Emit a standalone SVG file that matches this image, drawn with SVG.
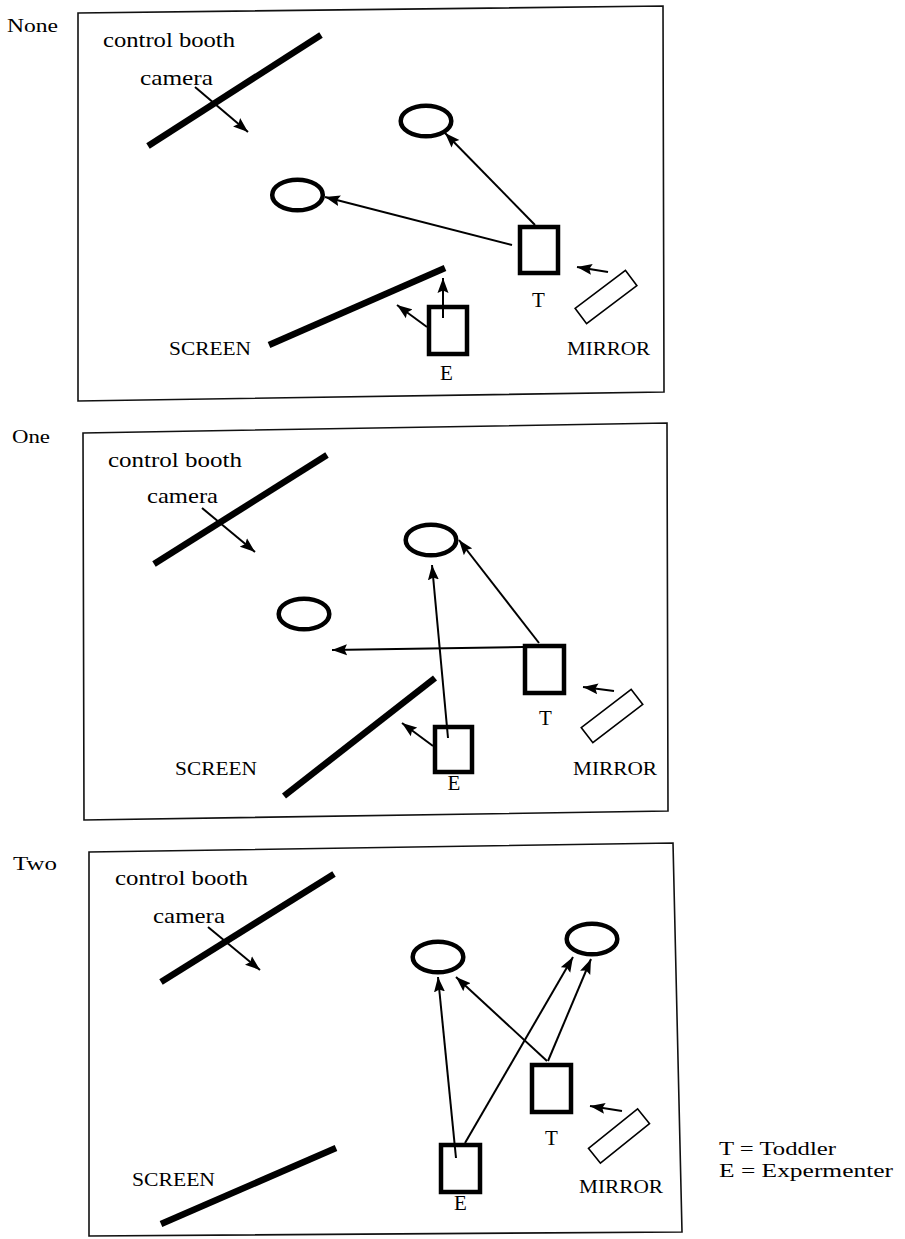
<svg xmlns="http://www.w3.org/2000/svg" width="905" height="1239" viewBox="0 0 905 1239">
  <style>
    .frame { fill: none; stroke: #111; stroke-width: 1.6; }
    .wall { stroke: #000; stroke-width: 6.5; fill: none; }
    .toy { fill: none; stroke: #000; stroke-width: 4.5; }
    .person { fill: none; stroke: #000; stroke-width: 4.5; }
    .mirror { fill: #fff; stroke: #000; stroke-width: 1.6; }
    .link { stroke: #000; stroke-width: 2; fill: none; marker-end: url(#ah); }
    text { font-family: "Liberation Serif", "Times New Roman", serif; fill: #000; }
    .cond { font-size: 19px; }
    .lbl { font-size: 19px; }
    .big { font-size: 21px; }
    .leg { font-size: 19px; }
    .id { font-size: 21px; text-anchor: middle; }
  </style>
  <defs>
    <marker id="ah" markerUnits="userSpaceOnUse" markerWidth="17" markerHeight="12" refX="15" refY="6" orient="auto">
      <path d="M0,0.5 L15,6 L0,11.5 L2.5,6 Z" fill="#000"/>
    </marker>
  </defs>
  <rect width="905" height="1239" fill="#fff"/>

  <!-- Condition: None -->
  <g id="panel-none">
    <text class="cond" x="7" y="32" textLength="51" lengthAdjust="spacingAndGlyphs">None</text>
    <polygon class="frame" points="78,13 663,6 664,392 78,401"/>
    <g id="none-booth">
      <line class="wall" x1="148" y1="146" x2="321" y2="35"/>
      <text class="big" x="103" y="47" textLength="132" lengthAdjust="spacingAndGlyphs">control booth</text>
      <text class="big" x="140" y="85" textLength="73" lengthAdjust="spacingAndGlyphs">camera</text>
    </g>
    <g id="none-screen">
      <line class="wall" x1="269" y1="345" x2="445" y2="268"/>
      <text class="lbl" x="169" y="355" textLength="82" lengthAdjust="spacingAndGlyphs">SCREEN</text>
    </g>
    <g id="none-toy-a"><ellipse class="toy" cx="426" cy="121" rx="25.3" ry="15.3"/></g>
    <g id="none-toy-b"><ellipse class="toy" cx="297.5" cy="195" rx="25.3" ry="15.3"/></g>
    <g id="none-toddler">
      <rect class="person" x="520" y="227" width="38" height="46"/>
      <text class="id" x="538.5" y="307">T</text>
    </g>
    <g id="none-experimenter">
      <rect class="person" x="429" y="307" width="38" height="47"/>
      <text class="id" x="446.5" y="380">E</text>
    </g>
    <g id="none-mirror">
      <rect class="mirror" x="-31.5" y="-9.5" width="63" height="19" transform="translate(606,297) rotate(-37)"/>
      <text class="lbl" x="567" y="355" textLength="83" lengthAdjust="spacingAndGlyphs">MIRROR</text>
    </g>
  </g>

  <!-- Condition: One -->
  <g id="panel-one">
    <text class="cond" x="12" y="443" textLength="38" lengthAdjust="spacingAndGlyphs">One</text>
    <polygon class="frame" points="83,433 667,423 668,811 84,820"/>
    <g id="one-booth">
      <line class="wall" x1="154" y1="564" x2="327" y2="455"/>
      <text class="big" x="108" y="467" textLength="134" lengthAdjust="spacingAndGlyphs">control booth</text>
      <text class="big" x="147" y="503" textLength="71" lengthAdjust="spacingAndGlyphs">camera</text>
    </g>
    <g id="one-screen">
      <line class="wall" x1="284" y1="796" x2="435" y2="678"/>
      <text class="lbl" x="175" y="775" textLength="82" lengthAdjust="spacingAndGlyphs">SCREEN</text>
    </g>
    <g id="one-toy-a"><ellipse class="toy" cx="431" cy="540" rx="25.3" ry="15.3"/></g>
    <g id="one-toy-b"><ellipse class="toy" cx="304" cy="614" rx="25.3" ry="15.3"/></g>
    <g id="one-toddler">
      <rect class="person" x="525" y="646" width="39" height="47"/>
      <text class="id" x="545.5" y="725">T</text>
    </g>
    <g id="one-experimenter">
      <rect class="person" x="435" y="727" width="37" height="45"/>
      <text class="id" x="454" y="790">E</text>
    </g>
    <g id="one-mirror">
      <rect class="mirror" x="-31.5" y="-9.5" width="63" height="19" transform="translate(612,716) rotate(-37.6)"/>
      <text class="lbl" x="573" y="775" textLength="84" lengthAdjust="spacingAndGlyphs">MIRROR</text>
    </g>
  </g>

  <!-- Condition: Two -->
  <g id="panel-two">
    <text class="cond" x="13" y="870" textLength="44" lengthAdjust="spacingAndGlyphs">Two</text>
    <polygon class="frame" points="89,852 673,843 682,1232 89,1236"/>
    <g id="two-booth">
      <line class="wall" x1="161" y1="982" x2="334" y2="874"/>
      <text class="big" x="115" y="885" textLength="133" lengthAdjust="spacingAndGlyphs">control booth</text>
      <text class="big" x="153" y="923" textLength="72" lengthAdjust="spacingAndGlyphs">camera</text>
    </g>
    <g id="two-screen">
      <line class="wall" x1="161" y1="1224" x2="336" y2="1148"/>
      <text class="lbl" x="132" y="1186" textLength="83" lengthAdjust="spacingAndGlyphs">SCREEN</text>
    </g>
    <g id="two-toy-a"><ellipse class="toy" cx="438" cy="957" rx="25.3" ry="15.3"/></g>
    <g id="two-toy-b"><ellipse class="toy" cx="592" cy="939" rx="25.3" ry="15.3"/></g>
    <g id="two-toddler">
      <rect class="person" x="532" y="1065" width="39" height="47"/>
      <text class="id" x="551.5" y="1145">T</text>
    </g>
    <g id="two-experimenter">
      <rect class="person" x="441" y="1145" width="39" height="47"/>
      <text class="id" x="460.5" y="1210">E</text>
    </g>
    <g id="two-mirror">
      <rect class="mirror" x="-31.5" y="-9.5" width="63" height="19" transform="translate(619,1136) rotate(-38.8)"/>
      <text class="lbl" x="579" y="1193" textLength="84" lengthAdjust="spacingAndGlyphs">MIRROR</text>
    </g>
  </g>

  <!-- Legend -->
  <g id="legend">
    <text class="leg" x="719" y="1155" textLength="117" lengthAdjust="spacingAndGlyphs">T = Toddler</text>
    <text class="leg" x="719" y="1177" textLength="174" lengthAdjust="spacingAndGlyphs">E = Expermenter</text>
  </g>

  <!-- Lines of sight and attention -->
  <g id="connectors">
    <line class="link" x1="195" y1="87" x2="248" y2="132"/>
    <line class="link" x1="535" y1="225" x2="445" y2="133"/>
    <line class="link" x1="512" y1="245" x2="325" y2="197"/>
    <line class="link" x1="608" y1="272" x2="577" y2="267"/>
    <line class="link" x1="443" y1="318" x2="443" y2="278"/>
    <line class="link" x1="427" y1="327" x2="397" y2="305"/>

    <line class="link" x1="202" y1="508" x2="255" y2="552"/>
    <line class="link" x1="539" y1="643" x2="459" y2="540"/>
    <line class="link" x1="523" y1="647" x2="332" y2="650"/>
    <line class="link" x1="448" y1="738" x2="432" y2="565"/>
    <line class="link" x1="433" y1="746" x2="402" y2="723"/>
    <line class="link" x1="614" y1="691" x2="583" y2="687"/>

    <line class="link" x1="208" y1="927" x2="260" y2="970"/>
    <line class="link" x1="456" y1="1158" x2="438" y2="977"/>
    <line class="link" x1="465" y1="1143" x2="573" y2="957"/>
    <line class="link" x1="547" y1="1061" x2="456" y2="977"/>
    <line class="link" x1="548" y1="1061" x2="591" y2="959"/>
    <line class="link" x1="622" y1="1111" x2="590" y2="1106"/>
  </g>
</svg>
